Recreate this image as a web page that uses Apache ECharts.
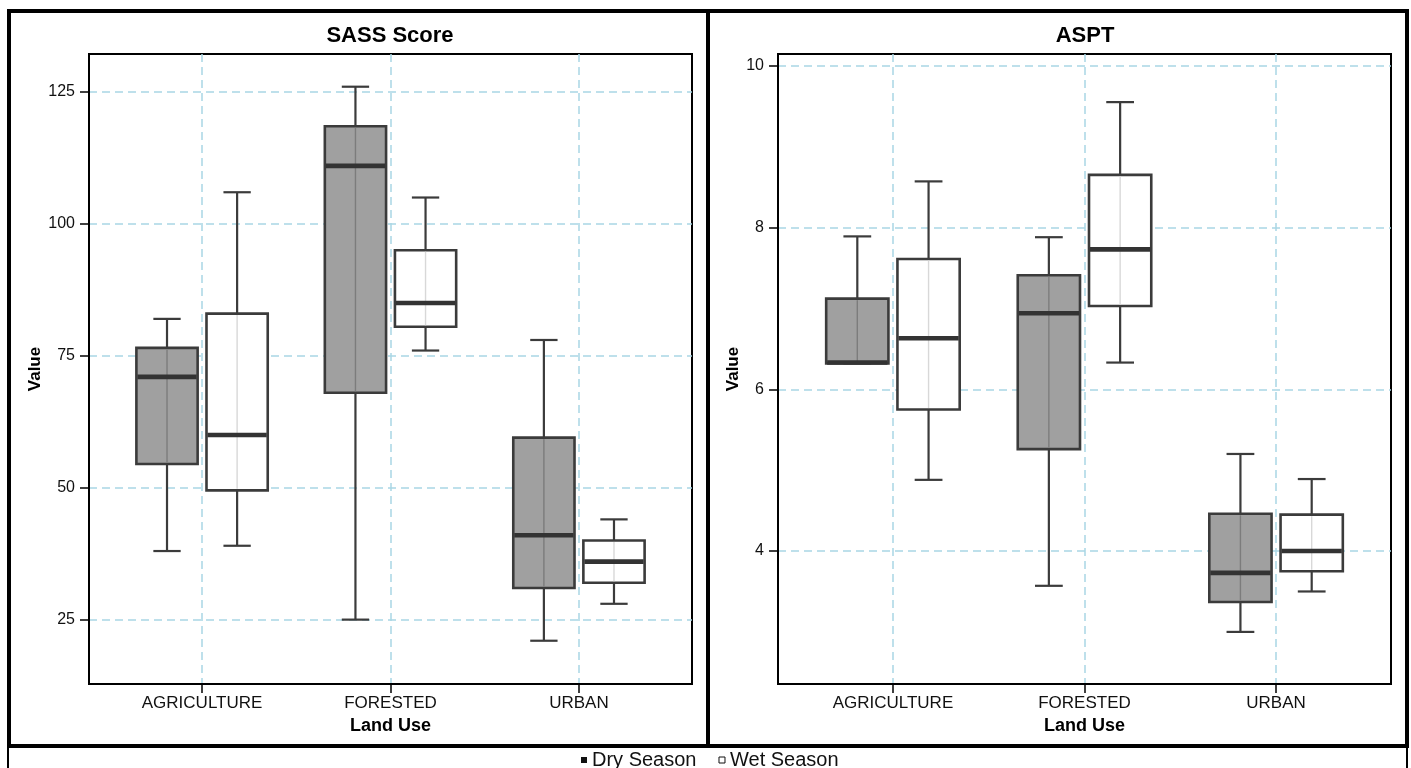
<!DOCTYPE html>
<html>
<head>
<meta charset="utf-8">
<title>SASS Score and ASPT by Land Use</title>
<script src="https://cdn.jsdelivr.net/npm/echarts@6/dist/echarts.min.js"></script>
<style>
  html, body { margin: 0; padding: 0; background: #fff; }
  #chart { width: 1411px; height: 768px; }
</style>
</head>
<body>
<div id="chart"></div>
<script>
// Land-use categories on the x axis
const categories = ['AGRICULTURE', 'FORESTED', 'URBAN'];

// Box summaries per category: [min, Q1, median, Q3, max]
const sassDry = [[38, 54.5, 71, 76.5, 82], [25, 68, 111, 118.5, 126], [21, 31, 41, 59.5, 78]];
const sassWet = [[39, 49.5, 60, 83, 106], [76, 80.5, 85, 95, 105], [28, 32, 36, 40, 44]];
const asptDry = [[6.32, 6.32, 6.33, 7.12, 7.89], [3.57, 5.26, 6.94, 7.41, 7.88], [3.00, 3.37, 3.73, 4.46, 5.20]];
const asptWet = [[4.88, 5.75, 6.63, 7.61, 8.57], [6.33, 7.03, 7.73, 8.65, 9.55], [3.50, 3.75, 4.00, 4.45, 4.89]];

// Tick labels of the value axes
const sassTicks = [25, 50, 75, 100, 125];
const asptTicks = [4, 6, 8, 10];

const seasons = ['Dry Season', 'Wet Season'];

const FONT = 'Liberation Sans, Arial, Helvetica, sans-serif';
const EDGE = '#3b3b3b';
const MEDIAN = '#333333';
const GRID_LINE = '#a9d6e5';
const BOX_W = 0.325;   // box width in category units
const CAP_W = 0.145;   // whisker cap width in category units
const SHIFT = 0.186;   // offset of each season from the category centre
const catTicks = categories.map((c, i) => i);

function rows(stats, shift) {
  return stats.map((s, i) => [i + shift].concat(s));
}

function boxItem(fill, spine) {
  return function (params, api) {
    const x = api.value(0);
    const pt = v => api.coord([x, v]);
    const lo = pt(api.value(1));
    const q1 = pt(api.value(2));
    const md = pt(api.value(3));
    const q3 = pt(api.value(4));
    const hi = pt(api.value(5));
    const bw = api.size([BOX_W, 0])[0];
    const cw = api.size([CAP_W, 0])[0];
    const cx = lo[0];
    const line = (x1, y1, x2, y2, stroke, lw) => ({
      type: 'line', shape: { x1, y1, x2, y2 }, style: { stroke, lineWidth: lw }
    });
    return {
      type: 'group',
      children: [
        line(cx, hi[1], cx, lo[1], EDGE, 2.2),
        line(cx - cw / 2, hi[1], cx + cw / 2, hi[1], EDGE, 2.2),
        line(cx - cw / 2, lo[1], cx + cw / 2, lo[1], EDGE, 2.2),
        {
          type: 'rect',
          shape: { x: cx - bw / 2, y: q3[1], width: bw, height: q1[1] - q3[1] },
          style: { fill, stroke: EDGE, lineWidth: 2.6 }
        },
        line(cx, q3[1] + 1.5, cx, q1[1] - 1.5, spine, 1.4),
        line(cx - bw / 2 + 1, md[1], cx + bw / 2 - 1, md[1], MEDIAN, 4.6)
      ]
    };
  };
}

function boxSeries(name, stats, shift, axisIdx, fill, spine) {
  return {
    type: 'custom',
    name,
    xAxisIndex: axisIdx,
    yAxisIndex: axisIdx,
    renderItem: boxItem(fill, spine),
    encode: { x: 0, y: [1, 2, 3, 4, 5] },
    data: rows(stats, shift),
    itemStyle: { color: fill },
    clip: false
  };
}

function xAxisFor(gridIndex) {
  return {
    type: 'value',
    gridIndex,
    min: -0.6,
    max: 2.6,
    name: 'Land Use',
    nameLocation: 'middle',
    nameGap: 31,
    nameTextStyle: { fontFamily: FONT, fontSize: 18, fontWeight: 'bold', color: '#000' },
    axisLine: { show: true, onZero: false, lineStyle: { color: '#000', width: 2 } },
    axisTick: { show: true, customValues: catTicks, length: 9, lineStyle: { color: '#000', width: 1.5 } },
    axisLabel: {
      customValues: catTicks,
      margin: 11,
      fontFamily: FONT, fontSize: 17, color: '#111',
      formatter: v => categories[Math.round(v)] || ''
    },
    splitLine: { show: true, lineStyle: { color: GRID_LINE, width: 1.5, type: [8, 5] } }
  };
}

function yAxisFor(gridIndex, min, max, ticks, nameGap) {
  return {
    type: 'value',
    gridIndex,
    min,
    max,
    name: 'Value',
    nameLocation: 'middle',
    nameGap,
    nameTextStyle: { fontFamily: FONT, fontSize: 17, fontWeight: 'bold', color: '#000' },
    axisLine: { show: true, onZero: false, lineStyle: { color: '#000', width: 2 } },
    axisTick: { show: true, customValues: ticks, length: 9, lineStyle: { color: '#000', width: 1.5 } },
    axisLabel: { customValues: ticks, margin: 14, fontFamily: FONT, fontSize: 16, color: '#111' },
    splitLine: { show: true, lineStyle: { color: GRID_LINE, width: 1.5, type: [8, 5] } }
  };
}

const chart = echarts.init(document.getElementById('chart'), null, { renderer: 'canvas' });

chart.setOption({
  animation: false,
  backgroundColor: '#fff',
  title: [
    { text: 'SASS Score', left: 390, top: 25, textAlign: 'center', padding: 0,
      textStyle: { fontFamily: FONT, fontSize: 22, fontWeight: 'bold', color: '#000' } },
    { text: 'ASPT', left: 1085, top: 25, textAlign: 'center', padding: 0,
      textStyle: { fontFamily: FONT, fontSize: 22, fontWeight: 'bold', color: '#000' } }
  ],
  legend: {
    data: [
      { name: seasons[0], itemStyle: { color: '#111', borderWidth: 0 } },
      { name: seasons[1], itemStyle: { color: '#fff', borderColor: '#111', borderWidth: 1 } }
    ],
    icon: 'rect',
    itemWidth: 6,
    itemHeight: 6,
    itemGap: 22,
    left: 581,
    top: 750,
    padding: 0,
    selectedMode: false,
    textStyle: { fontFamily: FONT, fontSize: 20, color: '#111' }
  },
  grid: [
    { left: 89, top: 54, width: 603, height: 630, show: true, borderColor: '#000', borderWidth: 2, backgroundColor: '#fff' },
    { left: 778, top: 54, width: 613, height: 630, show: true, borderColor: '#000', borderWidth: 2, backgroundColor: '#fff' }
  ],
  xAxis: [xAxisFor(0), xAxisFor(1)],
  yAxis: [
    yAxisFor(0, 12.8, 132.2, sassTicks, 45),
    yAxisFor(1, 2.356, 10.145, asptTicks, 34)
  ],
  series: [
    boxSeries(seasons[0], sassDry, -SHIFT, 0, '#a0a0a0', '#7c7c7c'),
    boxSeries(seasons[1], sassWet, SHIFT, 0, '#ffffff', '#d8d8d8'),
    boxSeries(seasons[0], asptDry, -SHIFT, 1, '#a0a0a0', '#7c7c7c'),
    boxSeries(seasons[1], asptWet, SHIFT, 1, '#ffffff', '#d8d8d8')
  ],
  graphic: [
    // panel frames and the legend strip
    { type: 'rect', z: 100, silent: true, shape: { x: 9, y: 11, width: 699, height: 735 },
      style: { fill: 'none', stroke: '#000', lineWidth: 4 } },
    { type: 'rect', z: 100, silent: true, shape: { x: 708, y: 11, width: 699, height: 735 },
      style: { fill: 'none', stroke: '#000', lineWidth: 4 } },
    { type: 'rect', z: 99, silent: true, shape: { x: 8, y: 746, width: 1399, height: 40 },
      style: { fill: 'none', stroke: '#000', lineWidth: 2 } }
  ]
});
</script>
</body>
</html>
